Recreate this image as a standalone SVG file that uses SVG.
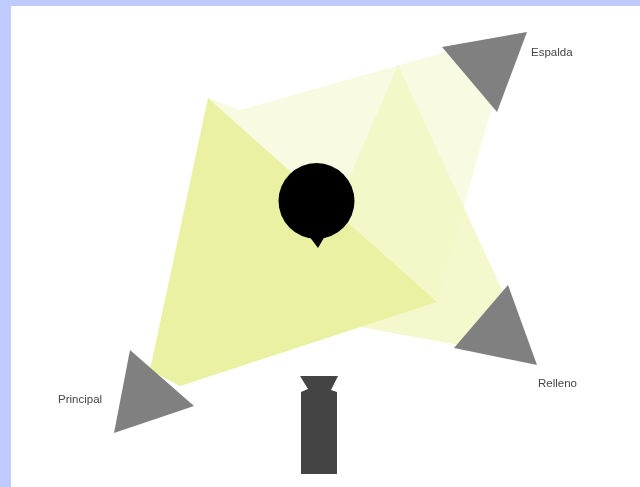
<svg xmlns="http://www.w3.org/2000/svg" width="640" height="487" viewBox="0 0 640 487">
<style>
.lamp{fill:#808080}
.lbl{font-family:"Liberation Sans",Arial,sans-serif;font-size:11.5px;fill:#444;filter:url(#s)}
</style>
<defs><filter id="s" x="-10%" y="-10%" width="120%" height="120%"><feGaussianBlur stdDeviation="0.4"/></filter></defs>
<rect width="640" height="487" fill="#bfcbff"/>
<rect x="11" y="6" width="629" height="481" fill="#fff"/>
<g id="beams" filter="url(#s)">
<polygon id="beam-espalda" points="446,52 492,106 437,302 208,98 240,110" fill="#f8fbe2"/>
<polygon id="beam-relleno" points="398,65 503,292 458,345 290,314" fill="#f3f7c6" fill-opacity="0.9"/>
<polygon id="beam-principal" points="208,98 437,302 180,386 150,370" fill="#ebf1a2"/>
</g>
<g id="espalda"><polygon class="lamp" points="442,47 527,32 497,112"/><text class="lbl" x="531" y="56">Espalda</text></g>
<g id="relleno"><polygon class="lamp" points="508,285 537,365 454,348"/><text class="lbl" x="538" y="387">Relleno</text></g>
<g id="principal"><polygon class="lamp" points="130,350 194,406 114,433"/><text class="lbl" x="58" y="403">Principal</text></g>
<g id="sujeto"><circle cx="316.500" cy="201" r="38" fill="#000"/><polygon points="309,236 325,236 318,248" fill="#000"/></g>
<g id="camara"><polygon points="300,376 338,376 331,390 337,392 337,474 301,474 301,392 308,389" fill="#444"/></g>
</svg>
